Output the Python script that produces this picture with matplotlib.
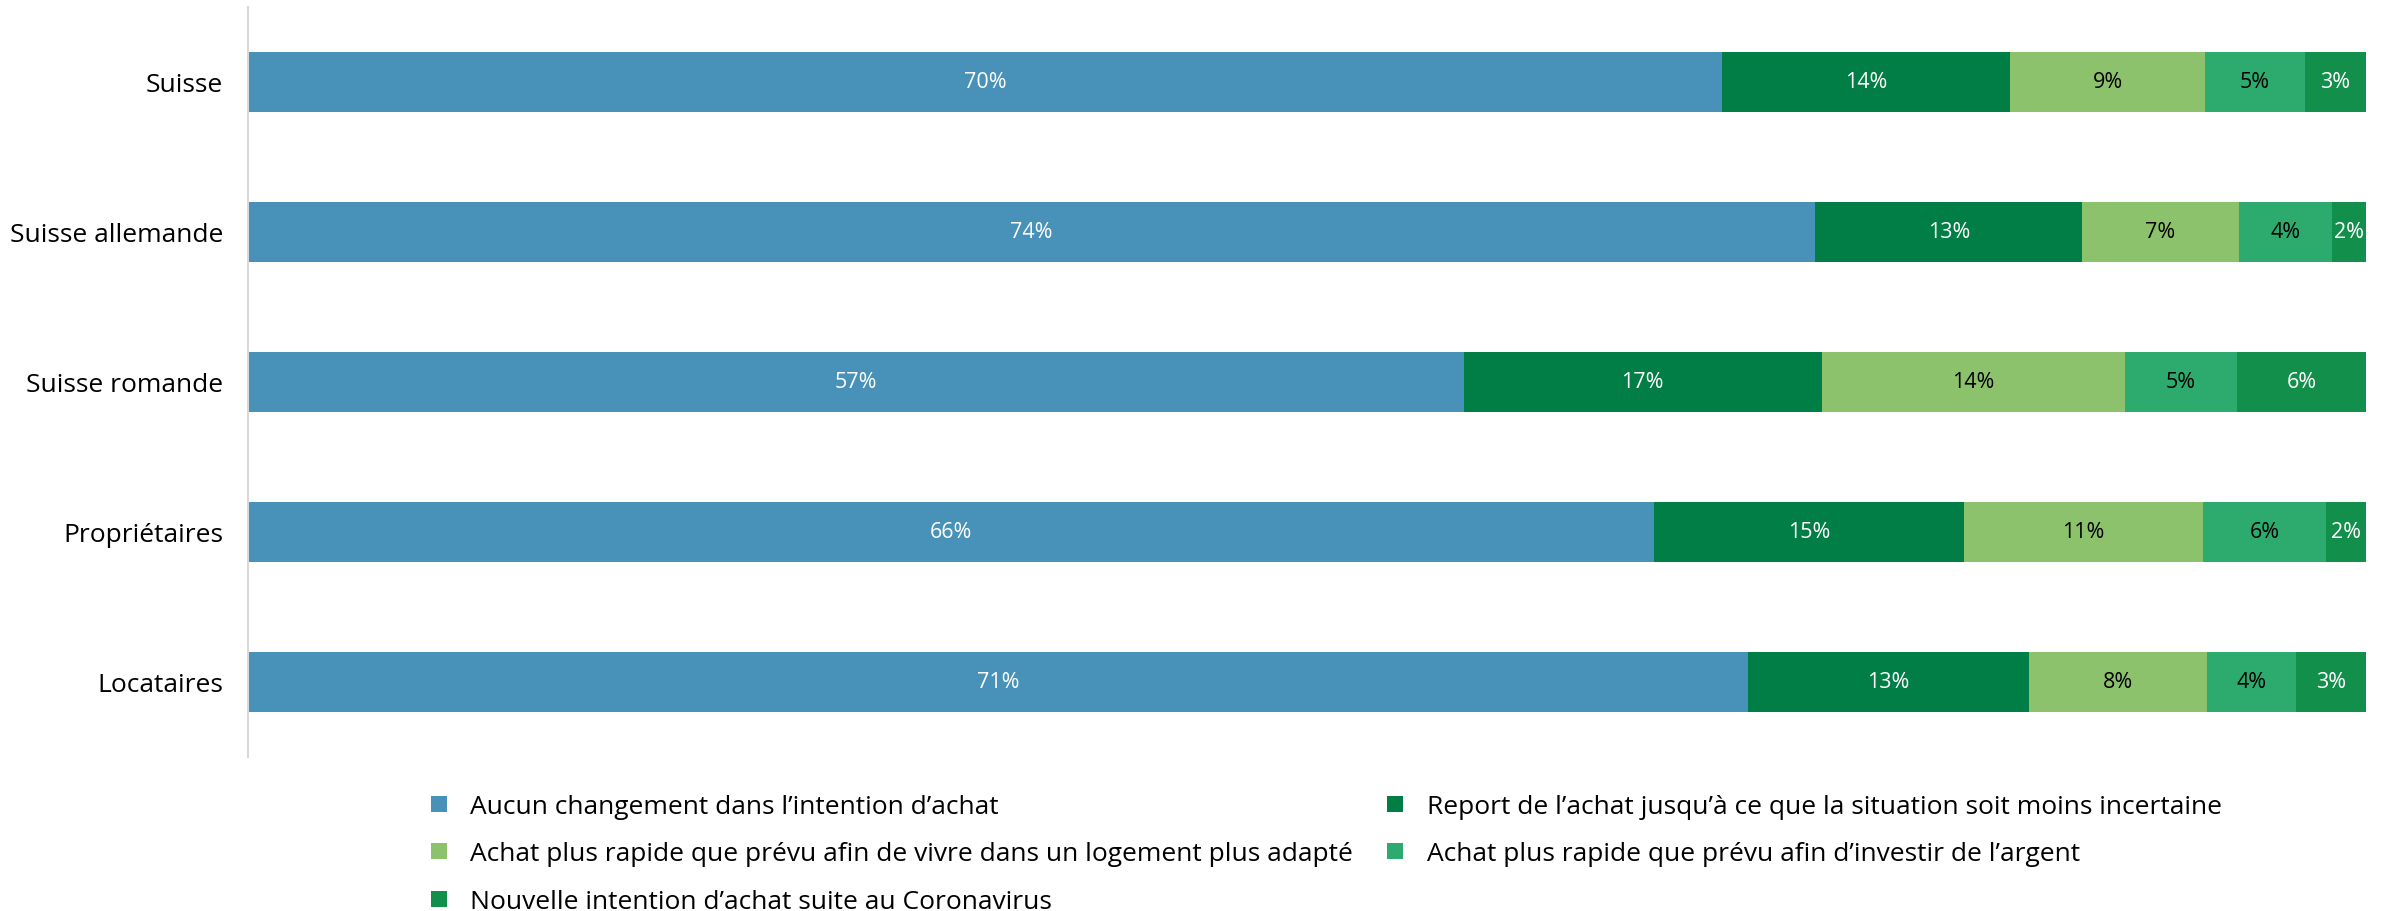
import numpy as np
import matplotlib
matplotlib.use("Agg")
import matplotlib.pyplot as plt
from matplotlib.lines import Line2D

# data (share of respondents, %)
categories = ["Suisse", "Suisse allemande", "Suisse romande", "Propriétaires", "Locataires"]
aucun_changement = [69.6, 74.0, 57.4, 66.4, 70.8]
report_achat = [13.6, 12.6, 16.9, 14.6, 13.3]
achat_logement = [9.2, 7.4, 14.3, 11.3, 8.4]
achat_investir = [4.7, 4.4, 5.3, 5.8, 4.2]
nouvelle_intention = [2.9, 1.6, 6.1, 1.9, 3.3]

series_names = [
    "Aucun changement dans l’intention d’achat",
    "Report de l’achat jusqu’à ce que la situation soit moins incertaine",
    "Achat plus rapide que prévu afin de vivre dans un logement plus adapté",
    "Achat plus rapide que prévu afin d’investir de l’argent",
    "Nouvelle intention d’achat suite au Coronavirus",
]
series = [aucun_changement, report_achat, achat_logement, achat_investir, nouvelle_intention]
colors = ["#4891B8", "#017E46", "#8DC26C", "#2DAA6D", "#138F4C"]
text_colors = ["white", "white", "black", "black", "white"]

plt.rcParams["font.family"] = ["Open Sans", "DejaVu Sans"]

W, H = 2389, 912
fig = plt.figure(figsize=(W / 100, H / 100), dpi=100)
ax = fig.add_axes([248 / W, (H - 758) / H, (2366 - 248) / W, 750 / H])

y = np.arange(len(categories))
left = np.zeros(len(categories))
for vals, col, tcol in zip(series, colors, text_colors):
    vals = np.array(vals)
    bars = ax.barh(y, vals, left=left, height=0.4, color=col)
    ax.bar_label(bars, labels=[f"{round(v)}%" for v in vals], label_type="center",
                 color=tcol, fontsize=15.5)
    left += vals

ax.set_xlim(0, 100)
ax.set_ylim(len(categories) - 0.5, -0.5)
ax.set_yticks(y)
ax.set_yticklabels(categories, fontsize=19)
ax.tick_params(axis="y", length=0, pad=18)
ax.set_xticks([])
for s in ["top", "right", "bottom"]:
    ax.spines[s].set_visible(False)
ax.spines["left"].set_color("#D9D9D9")
ax.spines["left"].set_linewidth(1.5)

# legend: first column gets 3 entries, second column 2
order = [0, 2, 4, 1, 3]
handles = [Line2D([], [], marker="s", linestyle="none", markersize=11,
                  markerfacecolor=colors[i], markeredgewidth=0) for i in order]
fig.legend(handles, [series_names[i] for i in order], ncol=2, frameon=False,
           loc="upper left", bbox_to_anchor=(428 / W, 1 - 795 / H),
           fontsize=19, handlelength=0.8, handletextpad=0.8,
           labelspacing=0.85, columnspacing=1.2, borderpad=0, borderaxespad=0)

fig.savefig("out.png", dpi=100)
